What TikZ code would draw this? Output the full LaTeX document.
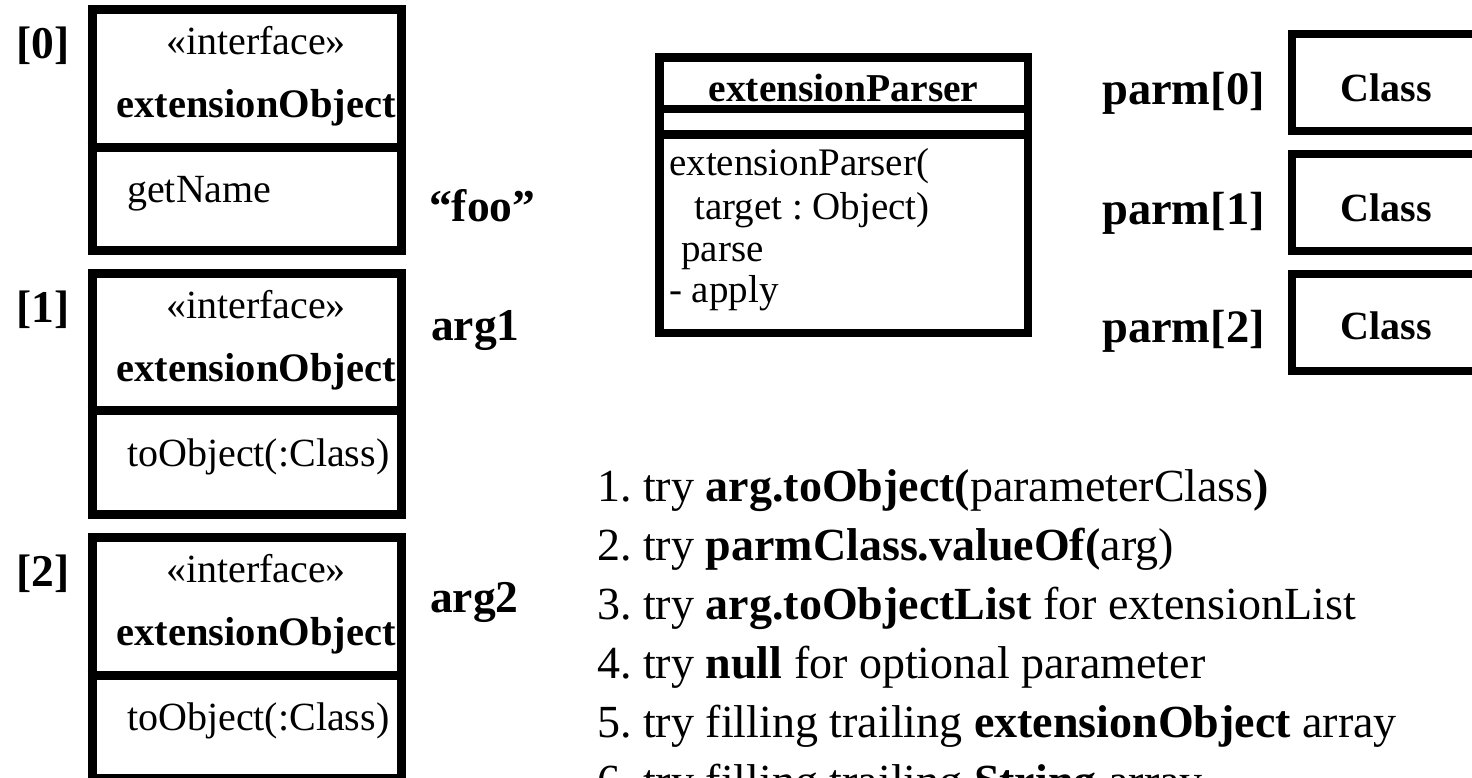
\documentclass[tikz,border=0pt]{standalone}
\usepackage{fontspec}
\setmainfont{Liberation Serif}
\newcommand\fsz[1]{\fontsize{#1}{#1}\selectfont\frenchspacing}
\begin{document}
\begin{tikzpicture}[x=1pt,y=-1pt,
  frame/.style={draw=black, line width=9pt, fill=none, inner sep=0pt, outer sep=0pt, anchor=north west},
  bar/.style={line width=9pt},
  stereo/.style={font=\fsz{40}, inner sep=0pt, anchor=base},
  cname/.style={font=\fsz{40.5}\bfseries, inner sep=0pt, anchor=base},
  member/.style={font=\fsz{40}, inner sep=0pt, anchor=base west},
  tag/.style={font=\fsz{45.5}\bfseries, inner sep=0pt},
  rule/.style={font=\fsz{46}, inner sep=0pt, anchor=base west}]
\useasboundingbox (0,0) rectangle (1472,777);
\clip (0,0) rectangle (1472,777);

% ---- argument objects (left column): outer top, divider ----
\foreach \i/\top/\div in {0/5/147.5, 1/269/410.5, 2/533/675.5}{
  \node[frame, minimum width=309.5pt, minimum height=241pt] (eo\i) at (92,\top+4.5) {};
  \coordinate (eo\i dl) at (87.5,\div);
  \coordinate (eo\i dr) at (406,\div);
  \draw[bar] (eo\i dl) -- (eo\i dr);
  \node[stereo] (st\i) at (256,\top+49) {«interface»};
  \node[cname]  (cn\i) at (256,\top+112) {extensionObject};
  \node[tag, anchor=base] (ix\i) at (43,\top+53) {[\i]};
}
\node[member] (m0) at (127,202) {getName};
\node[member] (m1) at (127,466) {toObject(:Class)};
\node[member] (m2) at (127,730) {toObject(:Class)};

\node[tag, anchor=base west] (foo)  at (429,221) {“foo”};
\node[tag, anchor=base west] (arg1) at (431,340) {arg1};
\node[tag, anchor=base west] (arg2) at (430,612) {arg2};

% ---- parser class ----
\node[frame, line width=8.5pt, minimum width=368.5pt, minimum height=275.5pt] (ep) at (659.25,57.25) {};
\coordinate (epa) at (655,109);   \coordinate (epb) at (1032,109);
\coordinate (epc) at (655,134.5); \coordinate (epd) at (1032,134.5);
\draw[bar, line width=8.5pt] (epa) -- (epb);
\draw[bar, line width=8.5pt] (epc) -- (epd);
\node[cname, font=\fsz{39.5}\bfseries] (ept) at (843.5,101) {extensionParser};
\node[member, font=\fsz{39}] (ep1) at (669,175) {extensionParser(};
\node[member, font=\fsz{39}] (ep2) at (694,219) {target : Object)};
\node[member, font=\fsz{39}] (ep3) at (681,261) {parse};
\node[member, font=\fsz{39}] (ep4) at (669,302) {- apply};

% ---- parameter classes ----
\foreach \k/\top/\by in {0/34/101, 1/154/221, 2/274/339}{
  \node[frame, line width=8pt, minimum width=220pt, minimum height=97pt] (pc\k) at (1292,\top) {};
  \node[cname, font=\fsz{40}\bfseries] (pt\k) at (1386.5,\by) {Class};
  \node[tag, anchor=base, font=\fsz{46.5}\bfseries] (pl\k) at (1183.5,\by+3) {parm[\k]};
}

% ---- resolution steps ----
\node[rule] (s1) at (597,501) {1. try \textbf{arg.toObject(}parameterClass\textbf{)}};
\node[rule] (s2) at (597,560) {2. try \textbf{parmClass.valueOf(}arg)};
\node[rule] (s3) at (597,619) {3. try \textbf{arg.toObjectList} for extensionList};
\node[rule] (s4) at (597,678) {4. try \textbf{null} for optional parameter};
\node[rule] (s5) at (597,737) {5. try filling trailing \textbf{extensionObject} array};
\node[rule] (s6) at (597,796) {6. try filling trailing \textbf{String} array};
\end{tikzpicture}
\end{document}
